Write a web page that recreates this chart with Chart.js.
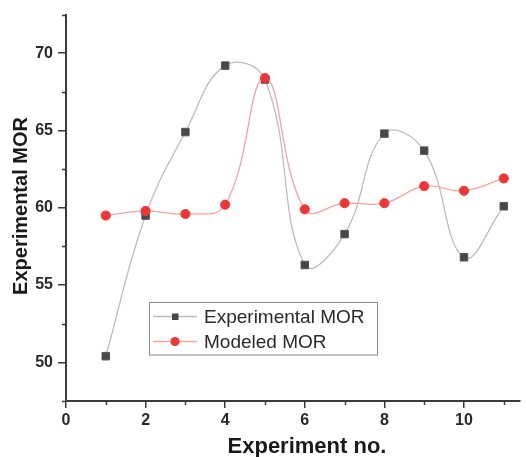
<!DOCTYPE html>
<html>
<head>
<meta charset="utf-8">
<script src="https://cdn.jsdelivr.net/npm/chart.js@4/dist/chart.umd.min.js"></script>
<style>
  html, body { margin: 0; padding: 0; background: #ffffff; }
  #wrap { width: 526px; height: 457px; position: relative; }
</style>
</head>
<body>
<div id="wrap"><canvas id="c" width="526" height="457"></canvas></div>
<script>
const experiments = [1, 2, 3, 4, 5, 6, 7, 8, 9, 10, 11];
const experimentalMOR = [50.4, 59.5, 64.9, 69.2, 68.3, 56.3, 58.3, 64.8, 63.7, 56.8, 60.1];
const modeledMOR = [59.5, 59.8, 59.6, 60.2, 68.4, 59.9, 60.3, 60.3, 61.4, 61.1, 61.9];
const xTicks = [0, 2, 4, 6, 8, 10];
const yTicks = [50, 55, 60, 65, 70];
const xMinorTicks = [1, 3, 5, 7, 9, 11];
const yMinorTicks = [47.5, 52.5, 57.5, 62.5, 67.5, 72.5];
const seriesNames = ['Experimental MOR', 'Modeled MOR'];
const axisTitles = { x: 'Experiment no.', y: 'Experimental MOR' };

const AXIS_COLOR = '#3a3a3a';
const FONT = 'Arial, "Liberation Sans", sans-serif';

const expPoints = experiments.map((x, i) => ({ x: x, y: experimentalMOR[i] }));
const modPoints = experiments.map((x, i) => ({ x: x, y: modeledMOR[i] }));

const extrasPlugin = {
  id: 'extras',
  afterDraw(chart) {
    const ctx = chart.ctx;
    const xs = chart.scales.x, ys = chart.scales.y;
    const area = chart.chartArea;
    ctx.save();
    // minor ticks
    ctx.strokeStyle = AXIS_COLOR;
    ctx.lineWidth = 1.5;
    xMinorTicks.forEach(v => {
      const px = Math.round(xs.getPixelForValue(v)) + 0.5;
      ctx.beginPath(); ctx.moveTo(px, area.bottom); ctx.lineTo(px, area.bottom + 4); ctx.stroke();
    });
    yMinorTicks.forEach(v => {
      const py = Math.round(ys.getPixelForValue(v)) + 0.5;
      ctx.beginPath(); ctx.moveTo(area.left, py); ctx.lineTo(area.left - 4, py); ctx.stroke();
    });
    // axis titles
    ctx.fillStyle = '#1a1a1a';
    ctx.font = 'bold 22px ' + FONT;
    ctx.textAlign = 'center';
    ctx.textBaseline = 'alphabetic';
    ctx.fillText(axisTitles.x, 307, 453);
    ctx.save();
    ctx.translate(27, 206);
    ctx.rotate(-Math.PI / 2);
    ctx.font = 'bold 20px ' + FONT;
    ctx.fillText(axisTitles.y, 0, 0);
    ctx.restore();
    // legend
    const lx = 149.5, ly = 302.5, lw = 228, lh = 52.5;
    ctx.fillStyle = '#ffffff';
    ctx.fillRect(lx, ly, lw, lh);
    ctx.strokeStyle = '#8a8a8a';
    ctx.lineWidth = 1;
    ctx.strokeRect(lx, ly, lw, lh);
    const rows = [316.5, 341.5];
    chart.data.datasets.forEach((ds, i) => {
      const y = rows[i];
      ctx.strokeStyle = ds.borderColor;
      ctx.lineWidth = ds.borderWidth;
      ctx.beginPath(); ctx.moveTo(153, y); ctx.lineTo(197, y); ctx.stroke();
      ctx.fillStyle = ds.pointBackgroundColor;
      if (ds.pointStyle === 'rect') {
        ctx.fillRect(175 - 3, y - 3, 6.5, 6.5);
      } else {
        ctx.beginPath(); ctx.arc(175, y, 4.5, 0, Math.PI * 2); ctx.fill();
      }
      ctx.fillStyle = '#2a2a2a';
      ctx.font = '19px ' + FONT;
      ctx.textAlign = 'left';
      ctx.textBaseline = 'middle';
      ctx.fillText(seriesNames[i], 204, y + 1);
    });
    ctx.restore();
  }
};

new Chart(document.getElementById('c'), {
  type: 'line',
  data: {
    datasets: [
      {
        label: seriesNames[0],
        data: expPoints,
        borderColor: '#bdbdbd',
        borderWidth: 1.3,
        tension: 0.42,
        pointStyle: 'rect',
        pointRadius: 5.3,
        pointBackgroundColor: '#474747',
        pointBorderColor: '#555555',
        pointBorderWidth: 1,
        order: 2,
        clip: false
      },
      {
        label: seriesNames[1],
        data: modPoints,
        borderColor: '#f7a3a3',
        borderWidth: 1.3,
        tension: 0.42,
        pointStyle: 'circle',
        pointRadius: 4.6,
        pointBackgroundColor: '#ef3535',
        pointBorderColor: '#ef3b3b',
        pointBorderWidth: 1,
        order: 1,
        clip: false
      }
    ]
  },
  options: {
    responsive: false,
    devicePixelRatio: 1,
    animation: false,
    layout: { padding: { top: 14, right: 0, left: 0, bottom: 0 } },
    plugins: { legend: { display: false }, tooltip: { enabled: false } },
    scales: {
      x: {
        type: 'linear',
        min: 0,
        max: 11.4,
        afterBuildTicks: s => { s.ticks = xTicks.map(v => ({ value: v })); },
        afterFit: s => { s.height = 56; },
        grid: { drawOnChartArea: false, drawTicks: true, tickLength: 7, color: AXIS_COLOR, lineWidth: 1.5 },
        border: { display: true, color: AXIS_COLOR, width: 2 },
        ticks: { color: '#2a2a2a', font: { family: FONT, size: 16, weight: 'bold' }, padding: 3, maxRotation: 0 }
      },
      y: {
        type: 'linear',
        min: 47.5,
        max: 72.5,
        afterBuildTicks: s => { s.ticks = yTicks.map(v => ({ value: v })); },
        afterFit: s => { s.width = 66; },
        grid: { drawOnChartArea: false, drawTicks: true, tickLength: 8, color: AXIS_COLOR, lineWidth: 1.5 },
        border: { display: true, color: AXIS_COLOR, width: 2 },
        ticks: { color: '#2a2a2a', font: { family: FONT, size: 16, weight: 'bold' }, padding: 5 }
      }
    }
  },
  plugins: [extrasPlugin]
});
</script>
</body>
</html>
